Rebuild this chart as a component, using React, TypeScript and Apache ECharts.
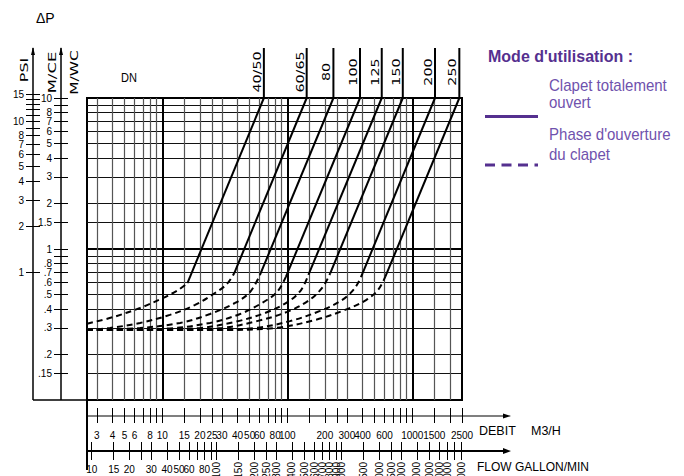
import React, { useEffect, useRef } from 'react';
import * as echarts from 'echarts';

// ---------- data ----------
const dnLabels = ['40/50', '60/65', '80', '100', '125', '150', '200', '250'];
// flow (m3/h) where the "fully open" line reaches ΔP = 10 m
const fullOpenTopFlow = [65, 143, 234, 382, 570, 840, 1520, 2380];
// knee where the fully open (solid) line starts
const kneeFlow = [15.9, 37.7, 60.5, 97.5, 147.6, 221, 401, 608];
const kneeDp = [0.595, 0.693, 0.673, 0.653, 0.673, 0.693, 0.693, 0.653];

// opening phase (dashed) [flow m3/h, ΔP m]
const opening4050 = [[2.5, 0.32], [4.04, 0.354], [6.64, 0.407], [10.1, 0.473], [13.4, 0.535]];
const opening6065 = [[2.5, 0.291], [3.82, 0.3], [6.64, 0.324], [11.5, 0.366], [18.3, 0.426], [26.4, 0.511], [32.9, 0.586]];
const opening80 = [[2.5, 0.291], [6.64, 0.3], [13.9, 0.324], [24.1, 0.371], [38.2, 0.439], [50.4, 0.519]];
const opening100 = [[2.5, 0.291], [4.59, 0.291], [11.5, 0.298], [24.1, 0.324], [41.9, 0.371], [62.8, 0.439], [82.8, 0.519]];
const opening125 = [[2.5, 0.291], [7.98, 0.291], [20, 0.3], [38.2, 0.329], [66.4, 0.377], [101, 0.446], [129, 0.535]];
const opening150 = [[2.5, 0.291], [11.5, 0.291], [30, 0.3], [57.3, 0.333], [99.5, 0.383], [147, 0.453], [190, 0.552]];
const opening200 = [[2.5, 0.291], [20, 0.291], [55.2, 0.3], [105, 0.333], [183, 0.389], [274, 0.459], [348, 0.552]];
const opening250 = [[2.5, 0.291], [29, 0.291], [79.8, 0.3], [167, 0.339], [290, 0.395], [427, 0.459], [532, 0.535]];
const openingPhase = [opening4050, opening6065, opening80, opening100, opening125, opening150, opening200, opening250];

// grid lines / ticks
const gridFlowValues = [3, 4, 5, 6, 7, 8, 9, 15, 20, 25, 30, 40, 50, 60, 70, 80, 90, 150, 200, 250, 300, 400, 500, 600, 700, 800, 900, 1500, 2000];
const decadeFlowValues = [10, 100, 1000];
const gridDpValues = [0.15, 0.2, 0.3, 0.4, 0.5, 0.6, 0.7, 0.8, 0.9, 1.5, 2, 3, 4, 5, 6, 7, 8, 9];
const boldDpValues = [1];
const mceTicks = [0.15, 0.2, 0.3, 0.4, 0.5, 0.6, 0.7, 0.8, 0.9, 1, 1.5, 2, 3, 4, 5, 6, 7, 8, 9, 10];
const mceLabels = [0.15, 0.2, 0.3, 0.4, 0.5, 0.6, 0.7, 0.8, 1, 1.5, 2, 3, 4, 5, 6, 7, 8, 10];
const psiTicks = [1, 2, 3, 4, 5, 6, 7, 8, 9, 10, 11, 12, 13, 14, 15];
const psiLabels = [1, 2, 3, 4, 5, 6, 7, 8, 10, 15];
const debitTicks = [3, 4, 5, 6, 7, 8, 9, 10, 15, 20, 25, 30, 40, 50, 60, 70, 80, 90, 100, 150, 200, 250, 300, 400, 500, 600, 700, 800, 900, 1000, 1500, 2000, 2500];
const debitLabels = [3, 4, 5, 6, 8, 10, 15, 20, 25, 30, 40, 50, 60, 80, 100, 200, 300, 400, 600, 1000, 1500, 2500];
const gpmTicks = [10, 15, 20, 25, 30, 40, 50, 60, 70, 80, 90, 100, 150, 200, 250, 300, 400, 500, 600, 700, 800, 900, 1000, 1500, 2000, 2500, 3000, 4000, 5000, 6000, 7000, 8000, 9000];
const gpmLabelsFlat = [10, 15, 20, 30, 40, 50, 60, 80];
const gpmLabelsRotated = [100, 150, 200, 250, 300, 400, 500, 600, 700, 800, 900, 1000, 1500, 2000, 2500, 3000, 4000, 5000, 6000, 7000, 9000];

// ---------- layout constants ----------
const GRID = { left: 87, top: 98, width: 375, height: 302 };
const Q_MIN = 2.5, Q_MAX = 2500, DP_MIN = 0.1, DP_MAX = 10;
const M_PER_PSI = 0.70307;
const GPM_PER_M3H = 3.666;
const PSI_MAX = 15;
const PX_PER_DEC_Y = GRID.height / Math.log10(DP_MAX / DP_MIN);
const PSI_GRID_TOP = GRID.top - PX_PER_DEC_Y * Math.log10((PSI_MAX * M_PER_PSI) / DP_MAX);
const MCE_OFFSET = 26;
const PSI_OFFSET = 54;

const FONT = 'Liberation Sans, Arial, sans-serif';
const CAD = 'DejaVu Sans, sans-serif';
const PURPLE = '#55308f';
const PURPLE_TXT = '#6f52ad';

const fmtNum = (v: number) => {
  const n = Number(Number(v).toPrecision(6));
  return n < 1 ? String(n).replace(/^0/, '') : String(n);
};

const off = {
  axisLine: { show: false, onZero: false },
  axisTick: { show: false },
  axisLabel: { show: false },
  splitLine: { show: false },
};

function xLog(extra: any) {
  return { type: 'log', logBase: 10, min: Q_MIN, max: Q_MAX, gridIndex: 0, position: 'bottom', ...off, ...extra };
}
function xGpm(extra: any) {
  return { type: 'log', logBase: 10, min: Q_MIN * GPM_PER_M3H, max: Q_MAX * GPM_PER_M3H, gridIndex: 0, position: 'bottom', ...off, ...extra };
}
function yLog(extra: any) {
  return { type: 'log', logBase: 10, min: DP_MIN, max: DP_MAX, gridIndex: 0, position: 'left', ...off, ...extra };
}
function yPsi(extra: any) {
  return { type: 'log', logBase: 10, min: DP_MIN / M_PER_PSI, max: PSI_MAX, gridIndex: 1, position: 'left', ...off, ...extra };
}

const labelBase = { show: true, color: '#000', fontFamily: FONT, fontSize: 10, formatter: (v: number) => fmtNum(v) };

function buildOption() {
  const series: any[] = [];
  dnLabels.forEach((dn, i) => {
    series.push({
      name: dn + ' opening',
      type: 'line',
      xAxisIndex: 0,
      yAxisIndex: 0,
      data: [...openingPhase[i], [kneeFlow[i], kneeDp[i]]],
      smooth: 0.35,
      symbol: 'none',
      silent: true,
      lineStyle: { color: '#000', width: 2, type: [6, 4] },
      z: 5,
    });
    series.push({
      name: dn + ' open',
      type: 'line',
      xAxisIndex: 0,
      yAxisIndex: 0,
      data: [[kneeFlow[i], kneeDp[i]], [fullOpenTopFlow[i], DP_MAX]],
      symbol: 'none',
      silent: true,
      lineStyle: { color: '#000', width: 2, type: 'solid' },
      z: 6,
    });
  });

  return {
    animation: false,
    backgroundColor: '#fff',
    grid: [
      { ...GRID, show: true, borderColor: '#000', borderWidth: 2, backgroundColor: 'transparent', containLabel: false, outerBoundsMode: 'none' },
      { left: GRID.left, width: GRID.width, top: PSI_GRID_TOP, height: GRID.top + GRID.height - PSI_GRID_TOP, show: false, containLabel: false, outerBoundsMode: 'none' },
    ],
    xAxis: [
      xLog({ axisTick: { show: false, customValues: gridFlowValues }, splitLine: { show: true, lineStyle: { color: '#555', width: 1.2 } } }),
      xLog({ axisTick: { show: false, customValues: decadeFlowValues }, splitLine: { show: true, lineStyle: { color: '#000', width: 2 } } }),
      xLog({ offset: 8, axisTick: { show: true, customValues: debitTicks, length: 15, inside: false, lineStyle: { color: '#000', width: 1 } } }),
      xLog({ offset: 16, axisLabel: { ...labelBase, customValues: debitLabels, margin: 19, verticalAlign: 'middle' } }),
      xGpm({ offset: 42, axisTick: { show: true, customValues: gpmTicks, length: 18, inside: false, lineStyle: { color: '#000', width: 1 } } }),
      xGpm({ offset: 51, axisLabel: { ...labelBase, customValues: gpmLabelsFlat, margin: 18, verticalAlign: 'middle' } }),
      xGpm({ offset: 51, axisLabel: { ...labelBase, customValues: gpmLabelsRotated, rotate: 90, margin: 11 } }),
      { type: 'value', gridIndex: 1, show: false },
    ],
    yAxis: [
      yLog({ axisTick: { show: false, customValues: gridDpValues }, splitLine: { show: true, lineStyle: { color: '#111', width: 1 } } }),
      yLog({ axisTick: { show: false, customValues: boldDpValues }, splitLine: { show: true, lineStyle: { color: '#000', width: 2 } } }),
      yLog({ offset: MCE_OFFSET - 7, axisTick: { show: true, customValues: mceTicks, length: 14, inside: false, lineStyle: { color: '#000', width: 1 } } }),
      yLog({ offset: MCE_OFFSET, axisLabel: { ...labelBase, customValues: mceLabels, margin: 9 } }),
      yPsi({ offset: PSI_OFFSET - 7, axisTick: { show: true, customValues: psiTicks, length: 14, inside: false, lineStyle: { color: '#000', width: 1 } } }),
      yPsi({ offset: PSI_OFFSET, axisLabel: { ...labelBase, customValues: psiLabels, margin: 9 } }),
    ],
    series,
  };
}

function buildGraphic(chart: any) {
  const toPx = (q: number, p: number) => chart.convertToPixel({ xAxisIndex: 0, yAxisIndex: 0 }, [q, p]);
  const [xL, yB] = toPx(Q_MIN, DP_MIN);
  const [xR, yT] = toPx(Q_MAX, DP_MAX);
  const mceX = xL - MCE_OFFSET;
  const psiX = xL - PSI_OFFSET;
  const axisTopY = 48;
  const debitY = yB + 16;
  const flowY = yB + 51;
  const arrowEnd = xR + 41;

  const els: any[] = [];
  const line = (x1: number, y1: number, x2: number, y2: number, w = 1.5, color = '#000', dash?: number[]) => ({
    type: 'line',
    silent: true,
    shape: { x1, y1, x2, y2 },
    style: { stroke: color, lineWidth: w, lineDash: dash },
    z: 10,
  });
  const text = (t: string, x: number, y: number, o: any = {}) => ({
    type: 'text',
    silent: true,
    x,
    y,
    rotation: o.rotation || 0,
    scaleX: o.scaleX || 1,
    z: 10,
    style: {
      text: t,
      x: 0,
      y: 0,
      fill: o.color || '#000',
      font: `${o.weight || 'normal'} ${o.size || 11}px ${o.family || FONT}`,
      align: o.align || 'left',
      verticalAlign: 'middle',
    },
  });

  // frame extensions
  els.push(line(xL, yB, xL, flowY + 19, 2));
  els.push(line(psiX, yB, xL, yB, 1.5));
  els.push(line(psiX, axisTopY, psiX, yB, 1.5));
  els.push(line(mceX, axisTopY, mceX, yB, 1.5));
  [psiX, mceX].forEach((x) => {
    els.push({ type: 'polygon', silent: true, z: 10, shape: { points: [[x, axisTopY - 1], [x - 2, axisTopY + 7], [x + 2, axisTopY + 7]] }, style: { fill: '#000' } });
  });
  // bottom axis lines with arrows
  els.push(line(xL, debitY, arrowEnd, debitY, 1.2));
  els.push({ type: 'polygon', silent: true, z: 10, shape: { points: [[arrowEnd + 8, debitY], [arrowEnd, debitY - 2.5], [arrowEnd, debitY + 2.5]] }, style: { fill: '#000' } });
  els.push(line(xL, flowY, arrowEnd, flowY, 2));
  els.push({ type: 'polygon', silent: true, z: 10, shape: { points: [[arrowEnd + 8, flowY], [arrowEnd, flowY - 3], [arrowEnd, flowY + 3]] }, style: { fill: '#000' } });

  // DN label lines
  dnLabels.forEach((dn, i) => {
    const [xt] = toPx(fullOpenTopFlow[i], DP_MAX);
    els.push(line(xt, axisTopY, xt, yT, 2));
    els.push(text(dn, xt - 7, 72, { rotation: Math.PI / 2, scaleX: 1.3, family: CAD, size: 11, align: 'center' }));
  });

  // axis titles
  els.push(text('ΔP', 36, 18, { size: 14 }));
  els.push(text('PSI', 23.5, 70, { rotation: Math.PI / 2, scaleX: 1.45, family: CAD, size: 11, align: 'center' }));
  els.push(text('M/CE', 52, 72.5, { rotation: Math.PI / 2, scaleX: 1.5, family: CAD, size: 11, align: 'center' }));
  els.push(text('M/WC', 74, 72.5, { rotation: Math.PI / 2, scaleX: 1.4, family: CAD, size: 11, align: 'center' }));
  els.push(text('DN', 121, 77.5, { size: 13, scaleX: 0.85 }));
  els.push(text('DEBIT', 479, 431, { size: 12.5 }));
  els.push(text('M3/H', 531, 431, { size: 12.5 }));
  els.push(text('FLOW GALLON/MIN', 477, 466.5, { size: 12 }));

  // legend
  els.push(text("Mode d'utilisation :", 488, 56, { size: 16, weight: 'bold', color: PURPLE }));
  els.push(text('Clapet totalement', 549, 85, { size: 16, scaleX: 0.94, color: PURPLE_TXT }));
  els.push(text('ouvert', 549, 102.7, { size: 16, scaleX: 0.94, color: PURPLE_TXT }));
  els.push(text("Phase d'ouverture", 549, 134, { size: 16, scaleX: 0.94, color: PURPLE_TXT }));
  els.push(text('du clapet', 549, 154.5, { size: 16, scaleX: 0.94, color: PURPLE_TXT }));
  els.push(line(485, 116.5, 538, 116.5, 3, PURPLE));
  els.push(line(485, 165, 538, 165, 3, PURPLE, [10, 6.5]));

  return els;
}

export default function App() {
  const ref = useRef<HTMLDivElement>(null);
  useEffect(() => {
    const el = ref.current;
    if (!el) return;
    const chart = echarts.init(el, undefined, { renderer: 'svg' });
    chart.setOption(buildOption() as any);
    chart.setOption({ graphic: buildGraphic(chart) } as any);
    return () => chart.dispose();
  }, []);
  return (
    <div
      ref={ref}
      style={{ position: 'absolute', left: 0, top: 0, width: 684, height: 476, background: '#fff' }}
    />
  );
}
